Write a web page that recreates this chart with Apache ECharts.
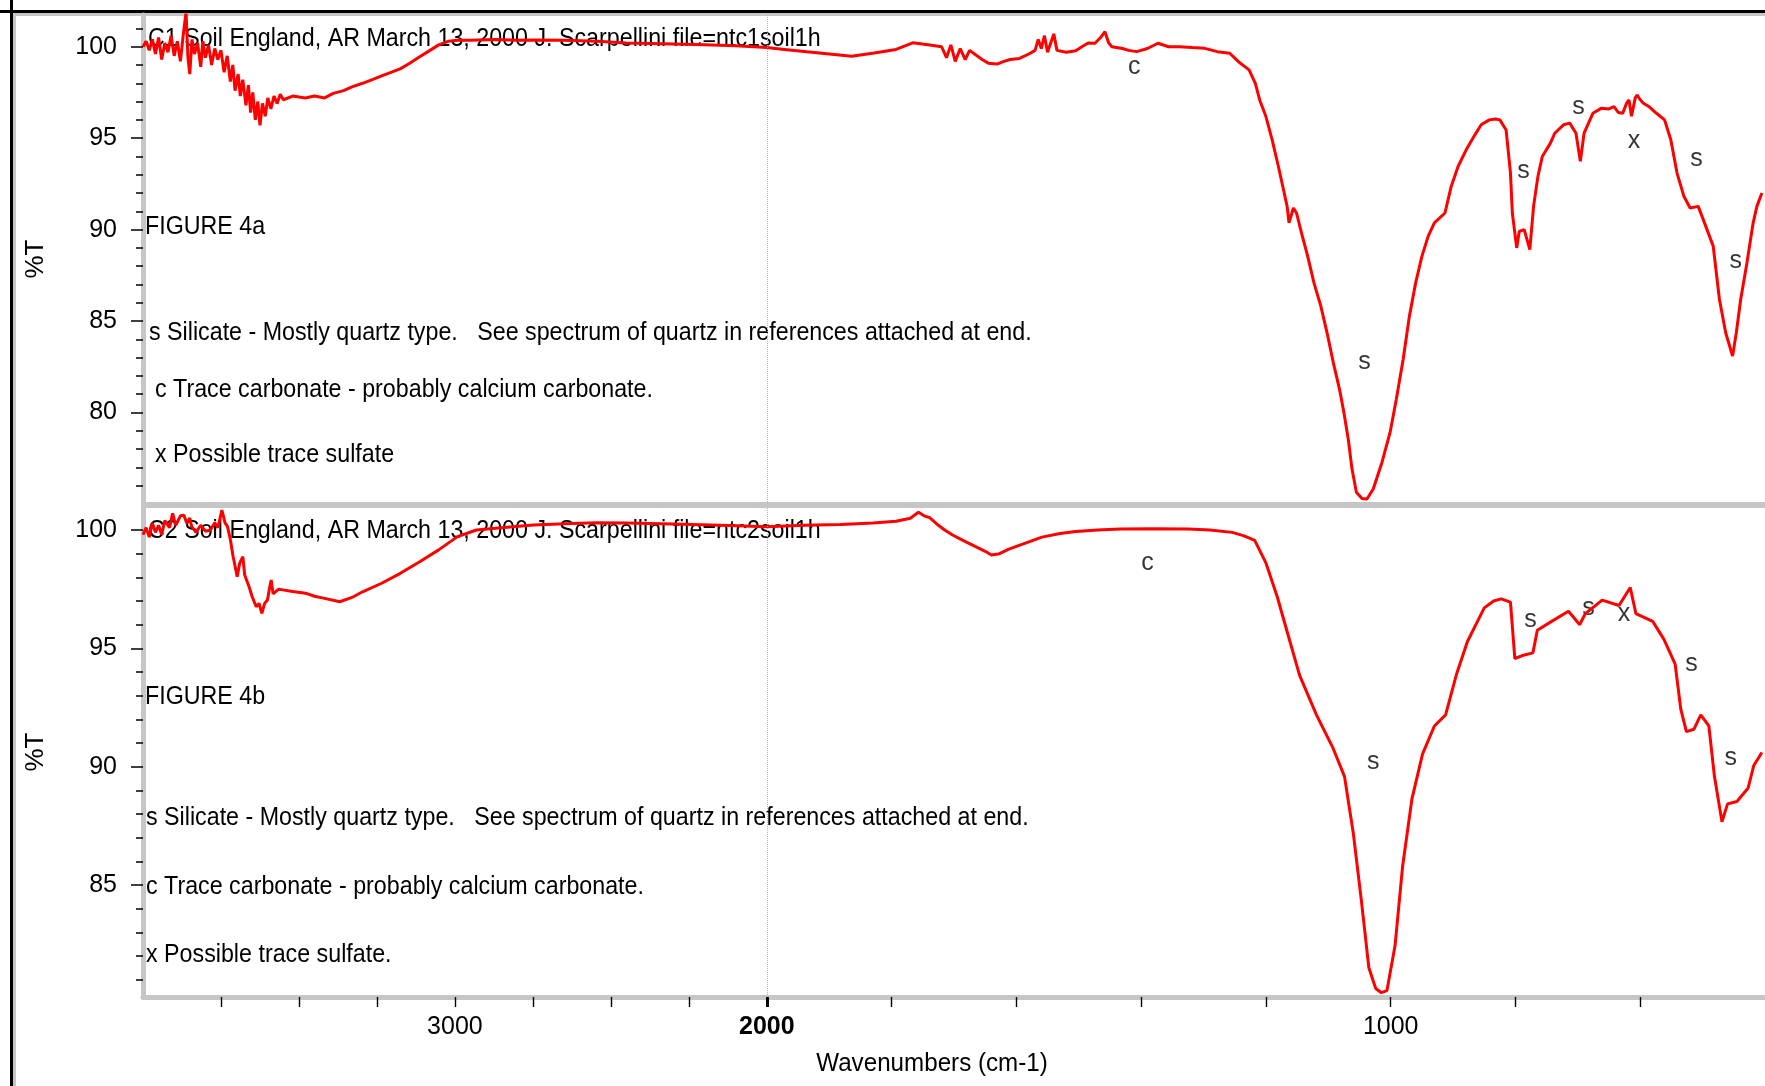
<!DOCTYPE html>
<html>
<head>
<meta charset="utf-8">
<script src="https://cdn.jsdelivr.net/npm/echarts@6/dist/echarts.min.js"></script>
<style>
  html, body { margin: 0; padding: 0; background: #ffffff; }
  #chart { width: 1765px; height: 1086px; }
</style>
</head>
<body>
<div id="chart"></div>
<script>
// ---- FT-IR spectra of soil samples C1 and C2 (wavenumber in cm-1, %T) ----

const wnTop = [
  4000,3990,3980,3970,3960,3950,3940,3930,3920,3910,
  3900,3890,3880,3870,3862,3856,3850,3843,3835,3825,
  3815,3808,3800,3790,3780,3770,3760,3750,3740,3730,
  3720,3712,3705,3695,3688,3680,3670,3662,3655,3648,
  3640,3632,3625,3617,3608,3600,3590,3580,3570,3560,
  3550,3520,3480,3450,3418,3390,3357,3330,3296,3265,
  3235,3205,3174,3145,3113,3080,3052,3020,2992,2950,
  2870,2800,2748,2650,2544,2450,2300,2200,2100,2000,
  1972,1936,1900,1864,1828,1793,1766,1739,1720,1712,
  1705,1698,1690,1682,1675,1667,1655,1645,1631,1620,
  1610,1595,1580,1570,1565,1560,1555,1550,1545,1540,
  1535,1520,1505,1495,1485,1474,1465,1458,1452,1447,
  1430,1420,1407,1390,1373,1356,1339,1318,1298,1278,
  1258,1244,1227,1217,1210,1200,1190,1180,1173,1166,
  1163,1156,1151,1143,1133,1123,1112,1102,1092,1082,
  1075,1068,1062,1055,1046,1038,1028,1014,1001,991,
  980,970,960,950,940,930,913,903,892,879,
  865,855,842,832,825,815,808,805,798,794,
  791,786,781,777,771,764,757,744,737,723,
  713,703,696,690,676,662,650,642,635,628,
  622,618,614,611,608,605,600,595,585,574,
  561,551,541,530,520,507,497,483,473,463,
  452,446,439,429,419,413,405
];
const tTop = [
  100.0,100.3,99.8,100.4,99.6,100.5,99.3,100.2,99.7,100.6,
  99.5,100.3,99.2,100.8,101.9,99.4,98.5,100.4,99.6,100.2,
  98.9,100.3,99.4,100.1,99.0,99.9,99.3,99.8,98.6,99.5,
  98.1,99.0,97.6,98.5,97.3,98.2,96.8,97.9,96.4,97.5,
  96.0,97.0,95.7,96.9,96.2,97.2,96.6,97.3,96.9,97.4,
  97.1,97.3,97.2,97.3,97.2,97.45,97.6,97.8,98.0,98.2,
  98.4,98.6,98.8,99.1,99.45,99.8,100.1,100.3,100.35,100.35,
  100.4,100.35,100.36,100.35,100.3,100.2,100.15,100.1,100.05,99.95,
  99.85,99.72,99.6,99.48,99.66,99.85,100.21,100.09,100.0,99.4,
  100.1,99.2,99.9,99.3,99.8,99.6,99.3,99.1,99.05,99.2,
  99.3,99.36,99.6,99.8,100.4,99.9,100.6,99.7,100.2,100.7,
  99.8,99.7,99.78,100.0,100.2,100.19,100.5,100.82,100.2,100.0,
  99.9,99.8,99.73,99.9,100.19,100.0,100.0,99.95,99.91,99.73,
  99.64,99.18,98.73,98.0,97.09,96.18,94.91,93.45,92.36,91.27,
  90.37,91.18,90.91,89.82,88.54,87.09,85.82,84.36,82.73,81.27,
  80.0,78.54,76.91,75.64,75.3,75.27,75.82,77.27,78.91,80.73,
  82.91,85.27,87.09,88.54,89.63,90.37,90.91,92.36,93.45,94.36,
  95.18,95.73,96.0,96.05,96.0,95.45,93.09,90.91,89.0,89.9,
  90.0,90.0,89.4,88.91,91.27,92.91,94.0,94.73,95.27,95.73,
  95.82,95.27,93.73,95.27,96.36,96.64,96.6,96.73,96.4,96.36,
  96.9,97.09,96.2,96.27,97.2,97.36,97.1,96.91,96.7,96.36,
  96.0,94.91,93.09,91.82,91.18,91.27,90.37,89.09,86.18,84.36,
  83.09,84.36,86.18,88.18,90.37,91.27,92.0
];

const wnBottom = [
  4000,3990,3980,3970,3960,3950,3940,3930,3915,3905,
  3895,3880,3869,3860,3850,3844,3830,3815,3800,3784,
  3770,3760,3747,3737,3729,3720,3711,3698,3690,3680,
  3674,3668,3660,3650,3637,3628,3619,3610,3601,3595,
  3589,3583,3577,3565,3552,3520,3479,3450,3418,3369,
  3330,3296,3235,3175,3113,3052,2992,2931,2870,2748,
  2626,2544,2450,2300,2150,2000,1940,1882,1830,1793,
  1770,1757,1748,1739,1725,1715,1703,1685,1667,1650,
  1640,1627,1613,1590,1559,1530,1505,1470,1433,1380,
  1325,1290,1254,1235,1218,1200,1182,1164,1146,1119,
  1092,1074,1060,1047,1035,1024,1015,1006,993,981,
  966,949,930,912,895,877,850,835,823,808,
  801,787,772,765,742,715,697,688,661,634,
  616,607,580,562,544,535,526,514,503,490,
  481,469,460,445,427,418,405
];
const tBottom = [
  99.8,100.1,99.7,100.3,99.9,100.2,99.8,100.4,100.1,100.7,
  100.2,100.6,100.63,100.3,100.5,100.14,99.9,100.2,99.95,100.0,
  100.3,100.1,100.84,100.3,100.14,99.6,98.87,98.03,98.6,98.87,
  98.1,97.89,97.6,97.18,96.76,96.9,96.48,96.9,97.04,97.5,
  97.89,97.3,97.25,97.5,97.47,97.4,97.33,97.2,97.11,96.97,
  97.15,97.39,97.75,98.17,98.66,99.16,99.72,100.0,100.07,100.21,
  100.28,100.31,100.3,100.25,100.2,100.14,100.2,100.23,100.3,100.37,
  100.5,100.75,100.6,100.52,100.2,100.0,99.8,99.55,99.32,99.1,
  98.94,99.0,99.18,99.4,99.7,99.85,99.94,100.0,100.04,100.05,
  100.04,100.0,99.9,99.75,99.56,98.61,97.19,95.52,93.86,92.19,
  90.76,89.58,87.2,84.34,81.5,80.63,80.45,80.54,82.44,85.77,
  88.63,90.53,91.72,92.19,93.86,95.29,96.71,97.0,97.09,96.95,
  94.57,94.71,94.81,95.76,96.14,96.57,96.0,96.47,97.04,96.81,
  97.57,96.47,96.14,95.38,94.33,92.43,91.48,91.58,92.19,91.72,
  89.58,87.67,88.43,88.53,89.1,90.05,90.6
];

// Band assignments written on the spectra
const peakTextTop = ['c', 's', 's', 's', 'x', 's', 's'];
const peakWnTop   = [1411, 1042, 787, 699, 610, 510, 447];
const peakTTop    = [98.89, 82.76, 93.2, 96.7, 94.84, 93.85, 88.28];

const peakTextBottom = ['c', 's', 's', 's', 'x', 's', 's'];
const peakWnBottom   = [1390, 1028, 776, 683, 626, 518, 455];
const peakTBottom    = [98.61, 90.2, 96.19, 96.71, 96.43, 94.33, 90.38];

// Axis ticks
const xTickWn  = [3750, 3500, 3250, 3000, 2750, 2500, 2250, 2000, 1800, 1600, 1400, 1200, 1000, 800, 600];
const xLabelWn = [3000, 2000, 1000];
const yMajorTop = [80, 85, 90, 95, 100];
const yMinorTop = [76,77,78,79,80,81,82,83,84,85,86,87,88,89,90,91,92,93,94,95,96,97,98,99,100,101];
const yMajorBottom = [85, 90, 95, 100];
const yMinorBottom = [81,82,83,84,85,86,87,88,89,90,91,92,93,94,95,96,97,98,99,100];

// Annotation text
const titleTop = 'C1 Soil England, AR March 13, 2000 J. Scarpellini file=ntc1soil1h';
const titleBottom = 'C2 Soil England, AR March 13, 2000 J. Scarpellini file=ntc2soil1h';
const notesTop = ['FIGURE 4a',
  's Silicate - Mostly quartz type.   See spectrum of quartz in references attached at end.',
  'c Trace carbonate - probably calcium carbonate.',
  'x Possible trace sulfate'];
const notesBottom = ['FIGURE 4b',
  's Silicate - Mostly quartz type.   See spectrum of quartz in references attached at end.',
  'c Trace carbonate - probably calcium carbonate.',
  'x Possible trace sulfate.'];

// ---- helpers ----
const FONT = '"Liberation Sans", Arial, sans-serif';
const TEXT_SQUEEZE = 0.93;   // the instrument software prints condensed text
// The axis is compressed 2:1 above 2000 cm-1
function toAxis(w) { return w > 2000 ? 2000 + (w - 2000) / 2 : w; }
function fromAxis(u) { return u > 2000 ? 2000 + (u - 2000) * 2 : u; }
function pairs(wn, t) { return wn.map((w, i) => [toAxis(w), t[i]]); }
function peaks(txt, wn, t) { return txt.map((s, i) => ({ name: s, value: [toAxis(wn[i]), t[i]] })); }

const X_MIN = 400, X_MAX = 3000;
const GRID_LEFT = 143, GRID_WIDTH = 1631;
const AXIS_GRAY = '#c6c6c6';

const topRange = { min: 75, max: 101.733 };
const botRange = { min: 80.268, max: 100.972 };

function yAxesFor(gridIndex, range, major, minor) {
  return [
    {
      gridIndex, type: 'value', min: range.min, max: range.max, position: 'left', offset: 0,
      axisLine: { show: true, lineStyle: { color: AXIS_GRAY, width: 5 } },
      axisTick: { show: true, customValues: major, length: 12, lineStyle: { color: '#000', width: 1.5 } },
      axisLabel: { customValues: major, margin: 26, color: '#000', fontSize: 25, fontFamily: FONT },
      splitLine: { show: false }
    },
    {
      gridIndex, type: 'value', min: range.min, max: range.max, position: 'left', offset: 0,
      axisLine: { show: false },
      axisTick: { show: true, customValues: minor, length: 7, lineStyle: { color: '#000', width: 1.5 } },
      axisLabel: { show: false },
      splitLine: { show: false }
    }
  ];
}

const dottedAt2000 = {
  silent: true, symbol: 'none', animation: false,
  label: { show: false },
  lineStyle: { color: '#b4b4b4', type: 'dotted', width: 1 },
  data: [{ xAxis: 2000 }]
};

function peakSeries(xi, yi, data) {
  return {
    type: 'scatter', xAxisIndex: xi, yAxisIndex: yi, symbolSize: 0, silent: true,
    data,
    label: { show: true, position: 'inside', formatter: p => p.name,
             color: '#000', fontSize: 25, fontFamily: FONT }
  };
}

function textEl(x, y, text, opts, extra) {
  return Object.assign({
    type: 'text', x, y, silent: true, scaleX: TEXT_SQUEEZE,
    style: Object.assign({ text, fill: '#000', fontSize: 25, fontFamily: FONT,
                           align: 'left', verticalAlign: 'middle' }, (opts || {}))
  }, (extra || {}));
}

const chart = echarts.init(document.getElementById('chart'), null, { renderer: 'canvas' });

chart.setOption({
  animation: false,
  backgroundColor: '#ffffff',
  grid: [
    { left: GRID_LEFT, top: 15, width: GRID_WIDTH, height: 489 },
    { left: GRID_LEFT, top: 507, width: GRID_WIDTH, height: 490 }
  ],
  xAxis: [
    { // top panel: plain gray baseline
      gridIndex: 0, type: 'value', min: X_MIN, max: X_MAX, inverse: true, position: 'bottom',
      axisLine: { show: true, lineStyle: { color: AXIS_GRAY, width: 4 } },
      axisTick: { show: false }, axisLabel: { show: false }, splitLine: { show: false }
    },
    { // bottom panel: wavenumber scale
      gridIndex: 1, type: 'value', min: X_MIN, max: X_MAX, inverse: true, position: 'bottom',
      axisLine: { show: true, lineStyle: { color: AXIS_GRAY, width: 5 } },
      axisTick: { show: true, customValues: xTickWn.map(toAxis), length: 10,
                  lineStyle: { color: '#000', width: 1.4 } },
      axisLabel: {
        customValues: xLabelWn.map(toAxis), margin: 18, color: '#000',
        fontSize: 25, fontFamily: FONT,
        formatter: v => { const w = Math.round(fromAxis(v)); return w === 2000 ? '{b|' + w + '}' : String(w); },
        rich: { b: { fontWeight: 'bold', fontSize: 25, fontFamily: FONT, color: '#000' } }
      },
      splitLine: { show: false }
    },
    { // heavier tick at the scale break
      gridIndex: 1, type: 'value', min: X_MIN, max: X_MAX, inverse: true, position: 'bottom', offset: 0,
      axisLine: { show: false },
      axisTick: { show: true, customValues: [toAxis(2000)], length: 10, lineStyle: { color: '#000', width: 3 } },
      axisLabel: { show: false }, splitLine: { show: false }
    },
    { // top border of lower panel
      gridIndex: 1, type: 'value', min: X_MIN, max: X_MAX, inverse: true, position: 'top', offset: 0,
      axisLine: { show: true, lineStyle: { color: AXIS_GRAY, width: 2 } },
      axisTick: { show: false }, axisLabel: { show: false }, splitLine: { show: false }
    }
  ],
  yAxis: [].concat(
    yAxesFor(0, topRange, yMajorTop, yMinorTop),
    yAxesFor(1, botRange, yMajorBottom, yMinorBottom)
  ),
  series: [
    {
      name: 'C1', type: 'line', xAxisIndex: 0, yAxisIndex: 0,
      data: pairs(wnTop, tTop), showSymbol: false, clip: true,
      lineStyle: { color: '#ff0000', width: 3 },
      markLine: dottedAt2000
    },
    {
      name: 'C2', type: 'line', xAxisIndex: 1, yAxisIndex: 2,
      data: pairs(wnBottom, tBottom), showSymbol: false, clip: true,
      lineStyle: { color: '#ff0000', width: 3 },
      markLine: dottedAt2000
    },
    peakSeries(0, 0, peaks(peakTextTop, peakWnTop, peakTTop)),
    peakSeries(1, 2, peaks(peakTextBottom, peakWnBottom, peakTBottom))
  ],
  graphic: [
    // window frame
    { type: 'line', silent: true, shape: { x1: 11.5, y1: 0, x2: 11.5, y2: 1086 }, style: { stroke: '#000', lineWidth: 3 } },
    { type: 'line', silent: true, shape: { x1: 0, y1: 11.5, x2: 1765, y2: 11.5 }, style: { stroke: '#000', lineWidth: 3 } },
    { type: 'line', silent: true, shape: { x1: 14.5, y1: 13, x2: 14.5, y2: 1086 }, style: { stroke: AXIS_GRAY, lineWidth: 3 } },
    { type: 'line', silent: true, shape: { x1: 13, y1: 14.5, x2: 1765, y2: 14.5 }, style: { stroke: AXIS_GRAY, lineWidth: 3 } },

    textEl(148, 39, titleTop),
    textEl(145, 227, notesTop[0]),
    textEl(149, 333, notesTop[1]),
    textEl(155, 390, notesTop[2]),
    textEl(155, 455, notesTop[3]),

    textEl(148, 531, titleBottom),
    textEl(145, 697, notesBottom[0]),
    textEl(146, 818, notesBottom[1]),
    textEl(146, 887, notesBottom[2]),
    textEl(146, 955, notesBottom[3]),

    textEl(36, 259, '%T', { align: 'center', fontSize: 26 }, { rotation: Math.PI / 2, scaleX: 1 }),
    textEl(36, 752, '%T', { align: 'center', fontSize: 26 }, { rotation: Math.PI / 2, scaleX: 1 }),
    textEl(932, 1064, 'Wavenumbers (cm-1)', { align: 'center', fontSize: 26 })
  ]
});
</script>
</body>
</html>
